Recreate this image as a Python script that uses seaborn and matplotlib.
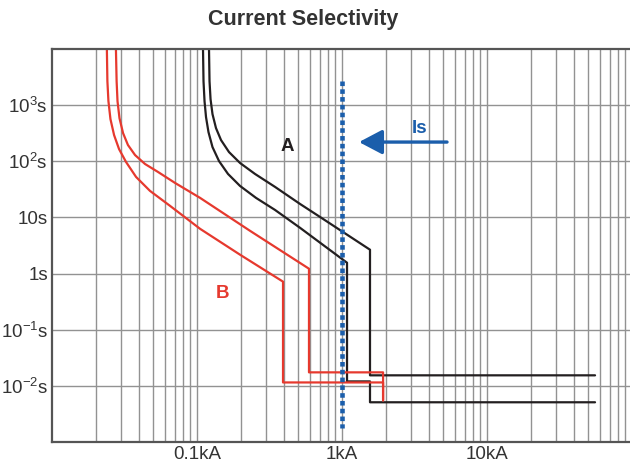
import matplotlib
matplotlib.use("Agg")
import matplotlib.pyplot as plt
from matplotlib.ticker import LogLocator, FixedLocator, FixedFormatter, NullFormatter
import pandas as pd
import seaborn as sns

# breaker A (upstream) - upper and lower edge of the trip band, current in kA, time in s
a_upper_ka = [0.121, 0.122, 0.124, 0.1279, 0.1352, 0.1464, 0.1662, 0.198, 0.2512, 0.3451,
              0.5132, 0.7052, 1.56, 1.56, 55.6]
a_upper_s = [10000, 2669, 1278, 692, 390, 239, 146, 93.3, 59.5, 35.0, 17.4, 10.2, 2.66,
             0.0154, 0.0154]
a_lower_ka = [0.110, 0.1109, 0.1127, 0.1154, 0.120, 0.1279, 0.1418, 0.1636, 0.198, 0.2552,
              0.3451, 0.5132, 1.083, 1.083, 1.56, 1.56, 55.6]
a_lower_s = [10000, 2669, 1178, 612, 331, 179, 101, 59.5, 36.4, 22.3, 13.6, 6.54, 1.56,
             0.0120, 0.0120, 0.0051, 0.0051]

# breaker B (downstream)
b_upper_ka = [0.0276, 0.0279, 0.0283, 0.0292, 0.0309, 0.0334, 0.0374, 0.0438, 0.0538, 0.0705,
              0.105, 0.232, 0.592, 0.592, 1.92, 1.92]
b_upper_s = [10000, 2669, 1178, 587, 318, 195, 129, 89.5, 64.6, 41.2, 22.3, 5.78, 1.22,
             0.0174, 0.0174, 0.0055]
b_lower_ka = [0.0239, 0.0241, 0.0245, 0.0253, 0.0268, 0.0290, 0.0324, 0.0380, 0.0474, 0.0651,
              0.105, 0.198, 0.392, 0.392, 1.92, 1.92]
b_lower_s = [10000, 2669, 1178, 564, 293, 165, 97.2, 52.6, 29.7, 16.1, 6.27, 2.17, 0.718,
             0.0115, 0.0115, 0.0055]

# selectivity limit Is
is_ka = [1.0, 1.0]
is_s = [2670, 0.0018]

y_ticks = [1e3, 1e2, 10, 1, 0.1, 0.01]
y_labels = [r"$\mathregular{10^3s}$", r"$\mathregular{10^2s}$", "10s", "1s",
            r"$\mathregular{10^{-1}s}$", r"$\mathregular{10^{-2}s}$"]
x_ticks = [0.1, 1, 10]
x_labels = ["0.1kA", "1kA", "10kA"]

red = "#e6392e"
black = "#231f20"
blue = "#1b5eab"
text_col = "#333333"

sns.set_style("white")
plt.rcParams["font.family"] = ["Liberation Sans", "DejaVu Sans"]
plt.rcParams["mathtext.fontset"] = "custom"
plt.rcParams["mathtext.rm"] = "Liberation Sans"

fig = plt.figure(figsize=(6.3, 4.63), dpi=100)
ax = fig.add_axes([52 / 630, 21 / 463, 580 / 630, 393 / 463])

curves = [
    (a_upper_ka, a_upper_s, black),
    (a_lower_ka, a_lower_s, black),
    (b_upper_ka, b_upper_s, red),
    (b_lower_ka, b_lower_s, red),
]
for xs, ys, col in curves:
    df = pd.DataFrame({"kA": xs, "s": ys})
    sns.lineplot(data=df, x="kA", y="s", sort=False, estimator=None,
                 color=col, linewidth=1.6, ax=ax)

df_is = pd.DataFrame({"kA": is_ka, "s": is_s})
sns.lineplot(data=df_is, x="kA", y="s", sort=False, estimator=None, color=blue,
             linewidth=3.3, linestyle=(0, (1.0, 0.7)), ax=ax)
ax.lines[-1].set_dash_capstyle("butt")

ax.set_xscale("log")
ax.set_yscale("log")
ax.set_xlim(0.01, 100)
ax.set_ylim(1e-3, 1e4)

ax.xaxis.set_major_locator(LogLocator(base=10))
ax.xaxis.set_minor_locator(LogLocator(base=10, subs=range(2, 10)))
ax.xaxis.set_minor_formatter(NullFormatter())
ax.grid(True, which="major", axis="both", color="#929292", linewidth=1.0)
ax.grid(True, which="minor", axis="x", color="#929292", linewidth=1.0)
ax.set_axisbelow(True)

ax.yaxis.set_major_locator(FixedLocator(y_ticks))
ax.yaxis.set_major_formatter(FixedFormatter(y_labels))
ax.yaxis.set_minor_formatter(NullFormatter())
ax.set_xticks(x_ticks)
ax.set_xticklabels(x_labels)
ax.tick_params(which="both", length=0)
ax.tick_params(axis="y", pad=3, labelsize=13.5, labelcolor=text_col)
ax.tick_params(axis="x", pad=3, labelsize=13.5, labelcolor=text_col)
ax.set_xlabel("")
ax.set_ylabel("")

for side in ["left", "bottom", "top"]:
    ax.spines[side].set_color("#555555")
    ax.spines[side].set_linewidth(1.6)
ax.spines["right"].set_visible(False)

ax.annotate("", xy=(1.31, 220), xytext=(5.3, 220),
            arrowprops=dict(arrowstyle="-|>,head_length=0.95,head_width=0.5",
                            mutation_scale=15, lw=2.4, color=blue, shrinkA=0, shrinkB=0))
ax.text(3.45, 390, "Is", color=blue, fontsize=13.5, fontweight="bold", ha="center", va="center")
ax.text(0.418, 187, "A", color=black, fontsize=13.5, fontweight="bold", ha="center", va="center")
ax.text(0.149, 0.44, "B", color=red, fontsize=13.5, fontweight="bold", ha="center", va="center")

fig.text(303 / 630, 1 - 20 / 463, "Current Selectivity", fontsize=15.5, fontweight="bold",
         color=text_col, ha="center", va="center")

fig.savefig("out.png", dpi=100)
